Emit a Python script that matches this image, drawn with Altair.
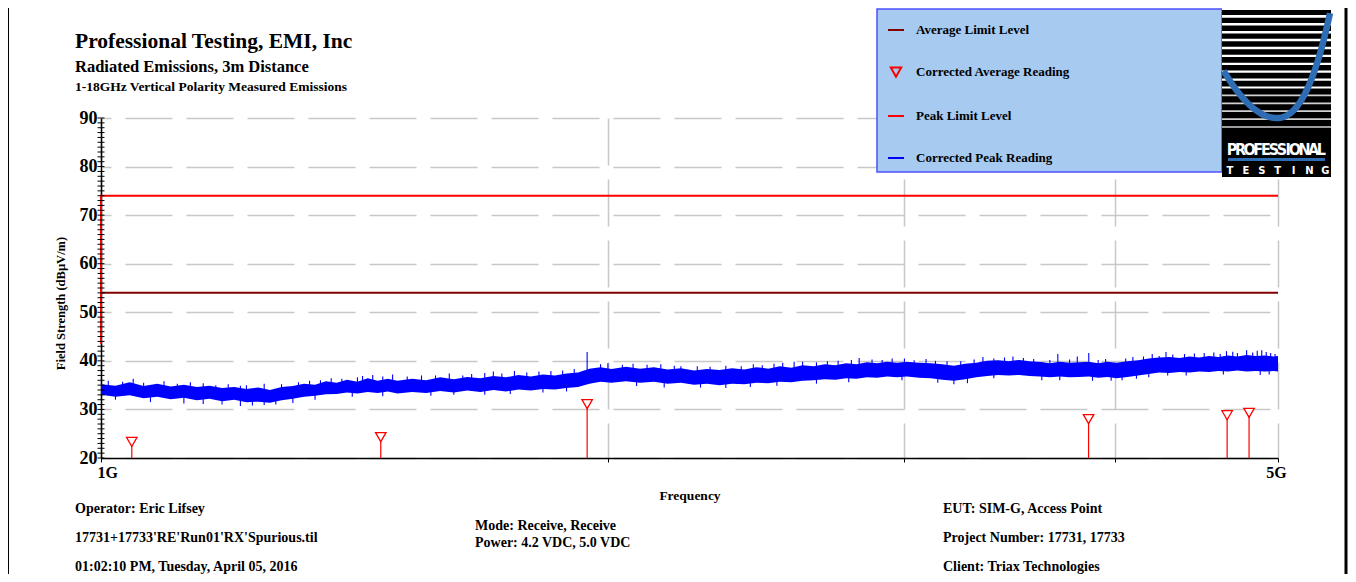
import altair as alt
import pandas as pd

# ---------------- data ----------------
freq_ghz = [
    1.00, 1.02, 1.04, 1.06, 1.08, 1.10, 1.12, 1.14, 1.16, 1.18, 1.20, 1.22, 1.24,
    1.26, 1.28, 1.30, 1.32, 1.34, 1.36, 1.38, 1.40, 1.42, 1.44, 1.46, 1.48, 1.50,
    1.53, 1.56, 1.59, 1.62, 1.65, 1.68, 1.71, 1.74, 1.77, 1.80, 1.83, 1.86, 1.89,
    1.92, 1.95, 1.98, 2.01,
    2.05, 2.09, 2.13, 2.17, 2.21, 2.25, 2.29, 2.33, 2.37, 2.41, 2.45, 2.49, 2.53,
    2.57, 2.61, 2.65, 2.69, 2.73, 2.77, 2.81, 2.85, 2.89, 2.93, 2.97, 3.01,
    3.06, 3.11, 3.16, 3.21, 3.26, 3.31, 3.36, 3.41, 3.46, 3.51, 3.56, 3.61, 3.66,
    3.71, 3.76, 3.81, 3.86, 3.91, 3.96, 4.01,
    4.07, 4.13, 4.19, 4.25, 4.31, 4.37, 4.43, 4.49, 4.55, 4.61, 4.67, 4.73, 4.79,
    4.85, 4.91, 4.97, 5.00,
]
peak_lo = [
    33.0, 32.6, 32.9, 32.3, 32.6, 32.1, 32.4, 31.9, 32.2, 31.7, 32.0, 31.5, 31.6,
    31.4, 31.9, 32.2, 32.6, 32.8, 33.1, 33.2, 33.5, 33.3, 33.6, 33.4, 33.7, 33.3,
    33.6, 33.4, 33.8, 33.5, 33.9, 33.6, 34.0, 33.7, 34.1, 33.9, 34.2, 34.1, 34.4,
    34.6, 35.3, 35.7, 35.5,
    35.8, 35.5, 35.7, 35.3, 35.5, 35.1, 35.3, 35.0, 35.3, 35.2, 35.5, 35.4, 35.7,
    35.6, 35.9, 36.0, 36.2, 36.1, 36.4, 36.3, 36.6, 36.5, 36.8, 36.6, 36.8,
    36.5, 36.4, 36.1, 35.9, 36.2, 36.6, 36.9, 37.1, 37.0, 37.1, 36.9, 36.8, 36.6,
    36.8, 36.6, 36.7, 36.8, 36.5, 36.7, 36.4,
    36.7, 37.0, 37.3, 37.6, 37.5, 37.7, 37.6, 37.8, 37.7, 37.9, 37.8, 38.0, 37.8,
    37.9, 37.8, 37.9, 37.8,
]
peak_hi = [
    35.2, 34.9, 35.6, 34.8, 35.3, 34.7, 35.1, 34.6, 34.9, 34.4, 34.6, 34.2, 34.5,
    34.0, 34.6, 34.8, 35.3, 35.1, 35.8, 35.5, 36.1, 35.7, 36.4, 35.9, 36.3, 35.9,
    36.3, 36.0, 36.6, 36.2, 36.7, 36.4, 36.9, 36.6, 37.1, 36.8, 37.2, 37.0, 37.4,
    37.6, 38.4, 38.7, 38.3,
    38.8, 38.4, 38.7, 38.2, 38.5, 38.0, 38.3, 38.1, 38.5, 38.2, 38.7, 38.4, 38.9,
    38.6, 39.1, 38.9, 39.3, 39.1, 39.5, 39.3, 39.7, 39.5, 39.8, 39.6, 39.8,
    39.6, 39.5, 39.3, 39.0, 39.4, 39.6, 40.0, 40.1, 39.9, 40.2, 39.9, 39.8, 39.5,
    39.8, 39.6, 39.7, 39.8, 39.5, 39.8, 39.6,
    39.9, 40.1, 40.5, 40.7, 40.8, 40.6, 40.9, 40.7, 41.0, 40.8, 41.1, 40.9, 41.2,
    41.0, 41.1, 40.9, 41.0,
]
# isolated spikes of the peak trace (frequency, start level, end level)
spike_freq = [
    1.045, 1.09, 1.13, 1.19, 1.22, 1.28, 1.33, 1.37, 1.42, 1.45, 1.52, 1.58, 1.66,
    1.71, 1.79, 1.85, 1.944, 1.98, 2.04, 2.11, 2.21, 2.30, 2.40, 2.47, 2.54, 2.61,
    2.70, 2.82, 2.95, 3.09, 3.18, 3.30, 3.44, 3.53, 3.70, 3.86, 3.95, 4.10, 4.21,
    4.33, 4.46, 4.58, 4.66, 4.73, 4.79, 4.89, 4.95,
    1.01, 1.03, 1.06, 1.11, 1.15, 1.17, 1.21, 1.25, 1.31, 1.35, 1.39, 1.43, 1.47,
    1.49, 1.55, 1.61, 1.64, 1.69, 1.73, 1.76, 1.82, 1.88, 1.91, 2.00, 2.07, 2.15,
    2.19, 2.26, 2.35, 2.44, 2.51, 2.58, 2.66, 2.74, 2.79, 2.87, 2.91, 3.00, 3.04,
    3.13, 3.24, 3.34, 3.39, 3.48, 3.58, 3.66, 3.76, 3.80, 3.91, 4.06, 4.16, 4.25,
    4.29, 4.40, 4.52, 4.62, 4.70, 4.83, 4.86, 4.92, 4.98,
    1.07, 1.18, 1.25, 1.30, 1.62, 1.75, 2.27, 2.43, 3.21, 3.62, 3.98, 4.04, 4.30,
    1.02, 1.12, 1.15, 1.21, 1.23, 1.27, 1.34, 1.41, 1.47, 1.57, 1.69, 1.83, 1.89,
    2.08, 2.16, 2.35, 2.52, 2.66, 2.78, 2.99, 3.14, 3.27, 3.39, 3.71, 3.88, 4.12,
    4.19, 4.41, 4.64, 4.88, 4.94,
]
spike_from = [
    34.0, 33.5, 33.5, 33.0, 33.0, 33.0, 34.0, 34.3, 34.5, 35.0, 35.0, 35.0, 35.2,
    35.3, 35.5, 35.6, 35.8, 37.0, 37.0, 37.0, 37.0, 36.7, 36.7, 37.0, 37.2, 37.4,
    37.6, 37.8, 38.2, 38.0, 37.6, 38.0, 38.5, 38.5, 38.2, 38.2, 38.2, 38.4, 38.8,
    39.2, 39.2, 39.3, 39.4, 39.4, 39.5, 39.5, 39.3,
    34.5, 34.3, 34.0, 33.8, 33.8, 33.6, 33.4, 33.2, 33.8, 34.3, 34.6, 35.0, 35.0,
    35.0, 35.2, 35.4, 35.4, 35.6, 35.7, 35.8, 36.0, 36.3, 36.5, 37.5, 37.6, 37.4,
    37.2, 37.0, 37.0, 37.3, 37.6, 37.7, 37.9, 38.1, 38.3, 38.5, 38.6, 38.7, 38.6,
    38.4, 38.3, 38.9, 39.0, 39.0, 38.8, 38.6, 38.7, 38.7, 38.6, 38.8, 39.2, 39.6,
    39.6, 39.8, 39.9, 40.0, 40.0, 40.0, 40.1, 40.0, 39.9,
    33.5, 33.0, 32.5, 33.0, 35.0, 35.3, 36.5, 36.7, 37.3, 38.0, 38.0, 38.0, 39.0,
    33.5, 33.0, 33.0, 32.5, 32.5, 32.5, 33.5, 34.2, 34.3, 34.5, 34.7, 35.0, 35.3,
    36.5, 36.3, 36.0, 36.5, 37.0, 37.3, 37.6, 37.3, 37.2, 38.0, 37.6, 37.6, 38.0,
    38.2, 38.6, 38.8, 38.8, 38.8,
]
spike_to = [
    36.3, 35.8, 35.6, 35.2, 35.0, 35.2, 35.9, 36.4, 36.6, 37.1, 36.8, 37.0, 37.3,
    37.8, 37.6, 37.9, 41.8, 39.3, 39.2, 39.2, 38.9, 38.8, 38.9, 39.1, 39.6, 39.8,
    39.9, 40.6, 40.5, 40.4, 39.9, 40.3, 40.7, 40.6, 41.4, 41.6, 40.4, 40.8, 41.4,
    41.3, 41.5, 41.7, 42.0, 41.6, 42.2, 42.2, 41.6,
    35.9, 35.7, 35.5, 35.3, 35.4, 35.0, 34.9, 35.3, 35.6, 36.0, 36.3, 36.9, 36.8,
    37.2, 37.0, 37.4, 37.0, 37.5, 37.4, 37.9, 37.8, 38.0, 38.3, 39.5, 39.4, 39.3,
    39.0, 38.9, 39.0, 39.3, 39.4, 39.8, 39.7, 40.0, 40.2, 40.3, 40.2, 40.5, 40.1,
    40.0, 39.9, 40.8, 40.5, 40.9, 40.4, 40.2, 40.3, 40.9, 40.2, 40.5, 40.9, 41.0,
    41.8, 41.4, 41.6, 41.4, 41.9, 41.7, 42.1, 41.8, 41.4,
    31.5, 31.0, 30.9, 31.3, 33.0, 33.2, 34.5, 34.6, 35.2, 36.0, 35.9, 36.0, 37.0,
    32.0, 31.2, 31.1, 30.7, 30.8, 31.0, 32.0, 32.6, 32.7, 32.8, 33.0, 33.5, 33.7,
    34.8, 34.5, 34.4, 34.9, 35.3, 35.6, 36.0, 35.5, 35.4, 36.4, 36.0, 35.9, 36.3,
    36.6, 37.0, 37.2, 37.1, 37.2,
]
avg_freq = [1.043, 1.466, 1.944, 3.859, 4.664, 4.806]
avg_level = [23.3, 24.3, 31.1, 28.0, 28.8, 29.3]
avg_limit_freq = [1.0, 5.0]
avg_limit_level = [54.0, 54.0]
peak_limit_freq = [1.0, 1.0, 5.0]
peak_limit_level = [43.5, 74.0, 74.0]

x_tick_values = [1, 2, 3, 4, 5]
x_tick_labels = ["1G", "", "", "", "5G"]
y_tick_values = [20, 30, 40, 50, 60, 70, 80, 90]
y_minor_ticks = list(range(20, 91))

legend_names = ["Average Limit Level", "Corrected Average Reading",
                "Peak Limit Level", "Corrected Peak Reading"]
legend_colors = ["#800000", "#FF0000", "#FF0000", "#0000FF"]

title_text = "Professional Testing, EMI, Inc"
subtitle_text = "Radiated Emissions, 3m Distance"
subtitle2_text = "1-18GHz Vertical Polarity Measured Emissions"
x_title = "Frequency"
y_title = "Field Strength (dBµV/m)"
footer_left = ["Operator: Eric Lifsey",
               "17731+17733'RE'Run01'RX'Spurious.til",
               "01:02:10 PM, Tuesday, April 05, 2016"]
footer_mid = ["Mode: Receive, Receive", "Power: 4.2 VDC, 5.0 VDC"]
footer_right = ["EUT: SIM-G, Access Point",
                "Project Number: 17731, 17733",
                "Client: Triax Technologies"]
logo_word = "PROFESSIONAL"
logo_sub = "TESTING"

# ---------------- layout / style ----------------
PW, PH = 1177, 340          # plot area
OX, OY = 101, 118           # page position of plot origin
SERIF = "Liberation Serif, Times New Roman, serif"
COND = "DejaVu Sans Condensed, DejaVu Sans, sans-serif"
GRID = "#C8C8C8"
TRI = "M-0.65,-0.55L0.65,-0.55L0,0.6Z"
legend_shapes = ["stroke", TRI, "stroke", "stroke"]

band_df = pd.DataFrame({"f": freq_ghz, "lo": peak_lo, "hi": peak_hi})
spike_df = pd.DataFrame({"f": spike_freq, "a": spike_from, "b": spike_to})
avg_df = pd.DataFrame({"f": avg_freq, "v": avg_level})
avg_lim_df = pd.DataFrame({"f": avg_limit_freq, "v": avg_limit_level,
                           "i": range(len(avg_limit_freq))})
peak_lim_df = pd.DataFrame({"f": peak_limit_freq, "v": peak_limit_level,
                            "i": range(len(peak_limit_freq))})
minor_df = pd.DataFrame({"v": y_minor_ticks})
legend_df = pd.DataFrame({"series": legend_names})
ONE = pd.DataFrame({"k": [0]})

label_expr = "".join(
    f"datum.value == {v} ? '{l}' : " for v, l in zip(x_tick_values, x_tick_labels)
) + "''"

x_scale = alt.Scale(type="log", domain=[1, 5], nice=False)
y_scale = alt.Scale(domain=[20, 90], nice=False, zero=False)

x_axis = alt.Axis(
    values=x_tick_values, labelExpr=label_expr, title=x_title,
    grid=True, gridColor=GRID, gridWidth=1.5, gridDash=[47, 14],
    domainColor="black", domainWidth=1.5,
    tickColor="black", tickSize=4, tickWidth=1,
    labelFont=SERIF, labelFontSize=16, labelFontWeight="bold", labelColor="black",
    labelBaseline="alphabetic", labelPadding=15, labelFlush=False, labelOverlap=False,
    labelAlign={"condition": {"test": "datum.value == 1", "value": "left"},
                "value": "center"},
    labelOffset={"condition": {"test": "datum.value == 1", "value": -4},
                 "value": -2},
    titleFont=SERIF, titleFontSize=13.5, titleFontWeight="bold", titleColor="black",
    titleBaseline="alphabetic", titleY=41,
)
y_axis = alt.Axis(
    values=y_tick_values, title=y_title,
    grid=True, gridColor=GRID, gridWidth=1.5, gridDash=[47, 14], gridDashOffset=37,
    domainColor="black", domainWidth=1.5, ticks=False,
    labelFont=SERIF, labelFontSize=18, labelFontWeight="bold", labelColor="black",
    labelPadding=4, labelFlush=False,
    titleFont=SERIF, titleFontSize=12.5, titleFontWeight="bold", titleColor="black",
    titleAngle=270, titleBaseline="middle", titleX=-41, titleY=185,
)

X = lambda: alt.X("f:Q", scale=x_scale, axis=x_axis)


def Y(field):
    return alt.Y(f"{field}:Q", scale=y_scale, axis=y_axis)


def txt(s, px, py, size, align="left", color="black", font=SERIF, weight="bold"):
    return alt.Chart(ONE).mark_text(
        text=s, align=align, baseline="alphabetic", font=font, fontSize=size,
        fontWeight=weight, color=color,
    ).encode(x=alt.value(px - OX), y=alt.value(py - OY))


def box(px1, py1, px2, py2, fill, **kw):
    return alt.Chart(ONE).mark_rect(fill=fill, **kw).encode(
        x=alt.value(px1 - OX), x2=alt.value(px2 - OX),
        y=alt.value(py1 - OY), y2=alt.value(py2 - OY))


def hline(px1, px2, py, color, w):
    return alt.Chart(ONE).mark_rule(color=color, strokeWidth=w).encode(
        x=alt.value(px1 - OX), x2=alt.value(px2 - OX), y=alt.value(py - OY))


def vline(px, py1, py2, color, w):
    return alt.Chart(ONE).mark_rule(color=color, strokeWidth=w).encode(
        x=alt.value(px - OX), y=alt.value(py1 - OY), y2=alt.value(py2 - OY))


layers = []

# peak reading trace (noise band + spikes)
layers.append(alt.Chart(band_df).mark_area(color="#0000FF", opacity=1).encode(
    x=X(), y=Y("lo"), y2="hi:Q"))
layers.append(alt.Chart(spike_df).mark_rule(color="#0000FF", strokeWidth=1.1).encode(
    x=X(), y=Y("a"), y2="b:Q"))

# limit lines
layers.append(alt.Chart(avg_lim_df).mark_line(color="#800000", strokeWidth=2).encode(
    x=X(), y=Y("v"), order="i:Q"))
layers.append(alt.Chart(peak_lim_df).mark_line(color="#FF0000", strokeWidth=2).encode(
    x=X(), y=Y("v"), order="i:Q"))

# corrected average readings: stems + hollow down triangles
layers.append(alt.Chart(avg_df).mark_rule(color="#FF0000", strokeWidth=1.2).encode(
    x=X(), y=Y("v"), y2=alt.datum(20)))
layers.append(alt.Chart(avg_df).mark_point(
    shape="triangle-down", size=110, filled=True, fill="white",
    stroke="#FF0000", strokeWidth=1.3, opacity=1).encode(x=X(), y=Y("v")))

# crossing minor ticks on the y axis
layers.append(alt.Chart(minor_df).mark_rule(color="black", strokeWidth=1).encode(
    x=alt.value(-3.5), x2=alt.value(3.5), y=Y("v")))

# legend panel
layers.append(box(877, 9, 1222, 172, "#A6CAF0", stroke="#4F4FFF", strokeWidth=1.5))
leg = alt.Legend(
    title=None, orient="none", legendX=786, legendY=-97, padding=0,
    rowPadding=26, symbolSize=256, symbolStrokeWidth=2, labelOffset=11,
    labelFont=SERIF, labelFontSize=13, labelFontWeight="bold", labelColor="black",
    labelLimit=400,
)
layers.append(alt.Chart(legend_df).mark_point(filled=False, opacity=1).encode(
    x=alt.value(-3000), y=alt.value(-3000),
    color=alt.Color("series:N", scale=alt.Scale(domain=legend_names, range=legend_colors),
                    legend=leg),
    shape=alt.Shape("series:N", scale=alt.Scale(domain=legend_names, range=legend_shapes),
                    legend=leg),
))

# logo
layers.append(box(1222, 6, 1331, 177, "black"))
for i in range(16):
    layers.append(hline(1222, 1331, 8.5 + 7.9 * i, "#FFFFFF" if i < 11 else "#D0D0D0",
                        2.8 - 0.08 * i))
layers.append(alt.Chart(ONE).mark_point(
    shape="M-0.97,0.1 C-0.6,0.72 -0.25,1.0 0.05,0.97 C0.45,0.95 0.75,0.2 1,-0.97",
    size=108 * 108, filled=False, stroke="#2E6DB4", strokeWidth=6.5, opacity=1,
).encode(x=alt.value(1276 - OX), y=alt.value(65.5 - OY)))
# condensed wordmark: letters placed by their advance widths and squeezed to fit
glyph_w = {"P": .733, "R": .770, "O": .850, "F": .683, "E": .683, "S": .720,
           "I": .372, "N": .837, "A": .774, "L": .637}
tot = sum(glyph_w[c] for c in logo_word)
cum = 0.0
for c in logo_word:
    cx = 1228 + 97 * (cum + glyph_w[c] / 2) / tot
    layers.append(txt(c, cx, 155, 16, align="center", color="white", font=COND))
    cum += glyph_w[c]
layers.append(hline(1228, 1325, 159.5, "#2E6DB4", 3))
for i, ch in enumerate(logo_sub):
    layers.append(txt(ch, 1230 + 15.9 * i, 173.5, 10, align="center", color="white",
                      font="DejaVu Sans, sans-serif"))

# frame lines
layers.append(vline(8.5, 8, 582, "black", 1))
layers.append(vline(1346, 8, 582, "black", 3))

# titles
layers.append(txt(title_text, 75, 47.5, 21.5))
layers.append(txt(subtitle_text, 75, 71.5, 16.5))
layers.append(txt(subtitle2_text, 75, 90.5, 13.5))

# footer
for s, py in zip(footer_left, [512.5, 541.5, 571]):
    layers.append(txt(s, 75, py, 14))
for s, py in zip(footer_mid, [529.5, 547]):
    layers.append(txt(s, 475, py, 14))
for s, py in zip(footer_right, [512.5, 541.5, 571]):
    layers.append(txt(s, 943, py, 14))

chart = alt.layer(*layers).properties(
    width=PW, height=PH,
    padding={"left": OX - 8, "top": OY - 8, "right": 1340 - (OX - 8) - PW,
             "bottom": 566 - (OY - 8) - PH},
    autosize=alt.AutoSizeParams(type="none"),
    background="white",
).configure_view(stroke="transparent")

chart.save("out.html", embed_options={"renderer": "svg", "actions": False})
